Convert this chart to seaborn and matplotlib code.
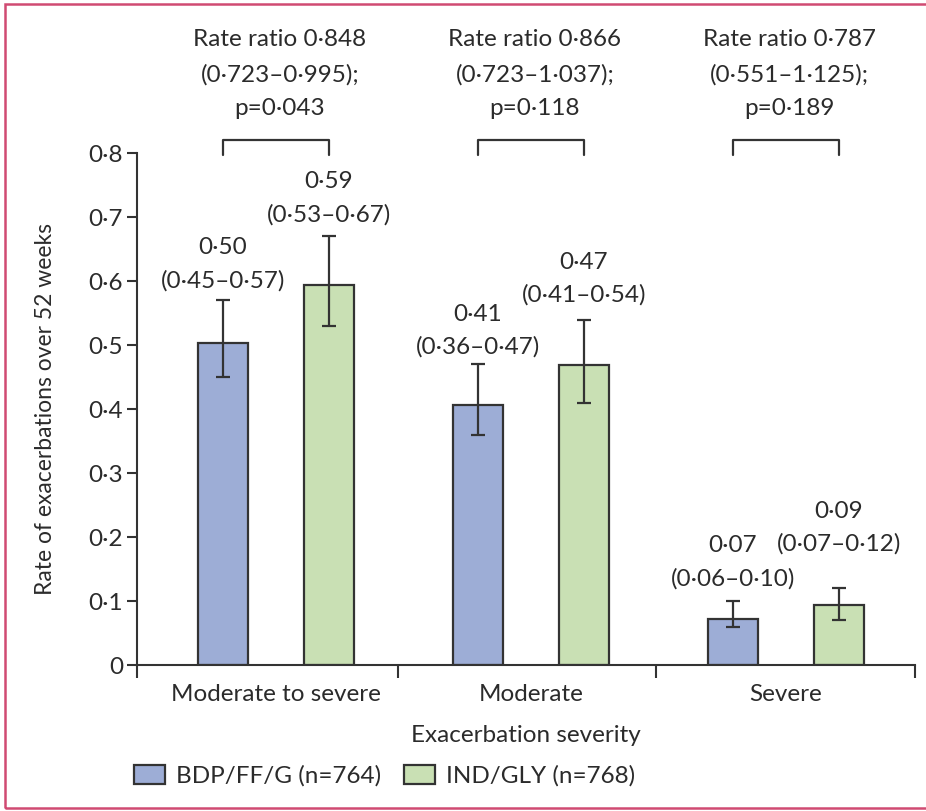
import pandas as pd
import matplotlib
matplotlib.use("Agg")
import matplotlib.pyplot as plt
import matplotlib.patches as mpatches
from matplotlib.ticker import FuncFormatter, MultipleLocator, FixedLocator
import seaborn as sns

# data
severity = ["Moderate to severe", "Moderate", "Severe"]
treatments = ["BDP/FF/G (n=764)", "IND/GLY (n=768)"]
bdp_rate = [0.503, 0.407, 0.072]
bdp_lo = [0.45, 0.36, 0.06]
bdp_hi = [0.57, 0.47, 0.10]
ind_rate = [0.594, 0.469, 0.094]
ind_lo = [0.53, 0.41, 0.07]
ind_hi = [0.67, 0.54, 0.12]
bdp_text = ["0·50\n(0·45–0·57)", "0·41\n(0·36–0·47)", "0·07\n(0·06–0·10)"]
ind_text = ["0·59\n(0·53–0·67)", "0·47\n(0·41–0·54)", "0·09\n(0·07–0·12)"]
ratio_text = ["Rate ratio 0·848\n(0·723–0·995);\np=0·043",
              "Rate ratio 0·866\n(0·723–1·037);\np=0·118",
              "Rate ratio 0·787\n(0·551–1·125);\np=0·189"]

rows = []
for i, s in enumerate(severity):
    rows.append(dict(severity=s, group=treatments[0], rate=bdp_rate[i], lo=bdp_lo[i], hi=bdp_hi[i], text=bdp_text[i]))
    rows.append(dict(severity=s, group=treatments[1], rate=ind_rate[i], lo=ind_lo[i], hi=ind_hi[i], text=ind_text[i]))
df = pd.DataFrame(rows)

sns.set_theme(style="ticks")
plt.rcParams["font.family"] = ["Lato", "DejaVu Sans"]
ink = "#2b2b2b"
plt.rcParams["text.color"] = ink
plt.rcParams["axes.labelcolor"] = ink
plt.rcParams["xtick.color"] = ink
plt.rcParams["ytick.color"] = ink
fs = 17.5

fig = plt.figure(figsize=(9.26, 8.11), dpi=100)
ax = fig.add_axes([0.148, 0.180, 0.840, 0.631])

palette = {treatments[0]: "#9dadd6", treatments[1]: "#c9e0b4"}
sns.barplot(data=df, x="severity", y="rate", hue="group", order=severity, hue_order=treatments,
            palette=palette, width=0.832, gap=0.529, errorbar=None, legend=False,
            edgecolor="#333333", linewidth=1.6, saturation=1, ax=ax)

# error bars + value labels, bars sorted by x match df row order
bars = sorted(ax.patches, key=lambda p: p.get_x())
label_pad = [6.5, 8, 5, 10, 8.5, 24]
for k, (p, (_, r)) in enumerate(zip(bars, df.iterrows())):
    xc = p.get_x() + p.get_width() / 2
    ax.errorbar(xc, r["rate"], yerr=[[r["rate"] - r["lo"]], [r["hi"] - r["rate"]]],
                fmt="none", ecolor="#333333", elinewidth=1.6, capsize=5, capthick=1.6)
    ax.annotate(r["text"], xy=(xc, r["hi"]), xytext=(0, label_pad[k]), textcoords="offset points",
                ha="center", va="bottom", fontsize=fs, linespacing=1.65, annotation_clip=False)

# rate ratio brackets
for i in range(len(severity)):
    x0 = bars[2 * i].get_x() + bars[2 * i].get_width() / 2
    x1 = bars[2 * i + 1].get_x() + bars[2 * i + 1].get_width() / 2
    ax.plot([x0, x0, x1, x1], [0.797, 0.82, 0.82, 0.797], color="#333333", lw=1.6, clip_on=False)
    ax.text(i + 0.015, 0.853, ratio_text[i], ha="center", va="bottom", fontsize=fs, linespacing=1.78)

ax.set_xlim(-0.545, 2.506)
ax.set_ylim(0, 0.8)
ax.yaxis.set_major_locator(MultipleLocator(0.1))
ax.yaxis.set_major_formatter(FuncFormatter(lambda v, _: "0" if abs(v) < 1e-9 else f"{v:.1f}".replace(".", "·")))
ax.xaxis.set_minor_locator(FixedLocator([-0.545, 0.48, 1.49, 2.506]))
ax.tick_params(axis="x", which="major", length=0, pad=14, labelsize=fs)
ax.tick_params(axis="x", which="minor", length=9, width=1.5, direction="out", color="#333333")
ax.tick_params(axis="y", length=7, width=1.5, pad=3, labelsize=fs, color="#333333")
sns.despine(ax=ax)
for s in ["left", "bottom"]:
    ax.spines[s].set_linewidth(1.5)
    ax.spines[s].set_color("#333333")

ax.set_xlabel("Exacerbation severity", fontsize=fs)
ax.xaxis.set_label_coords(0.5, -0.117)
ax.set_ylabel("Rate of exacerbations over 52 weeks", fontsize=16.5)
ax.yaxis.set_label_coords(-0.118, 0.5)
ax.yaxis.label.set_va("center")

handles = [mpatches.Patch(facecolor=palette[t], edgecolor="#333333", linewidth=1.6) for t in treatments]
fig.legend(handles, treatments, loc="center left", bbox_to_anchor=(0.145, 1 - 776 / 811), ncol=2,
           frameon=False, fontsize=fs, handlelength=1.27, handleheight=0.82, handletextpad=0.45,
           columnspacing=0.95, borderaxespad=0, borderpad=0)

# outer frame
fig.patches.append(mpatches.Rectangle((0.0054, 0.004), 1.2, 0.991, transform=fig.transFigure,
                                      fill=False, edgecolor="#d04a72", linewidth=1.8))

fig.savefig("out.png", dpi=100)
